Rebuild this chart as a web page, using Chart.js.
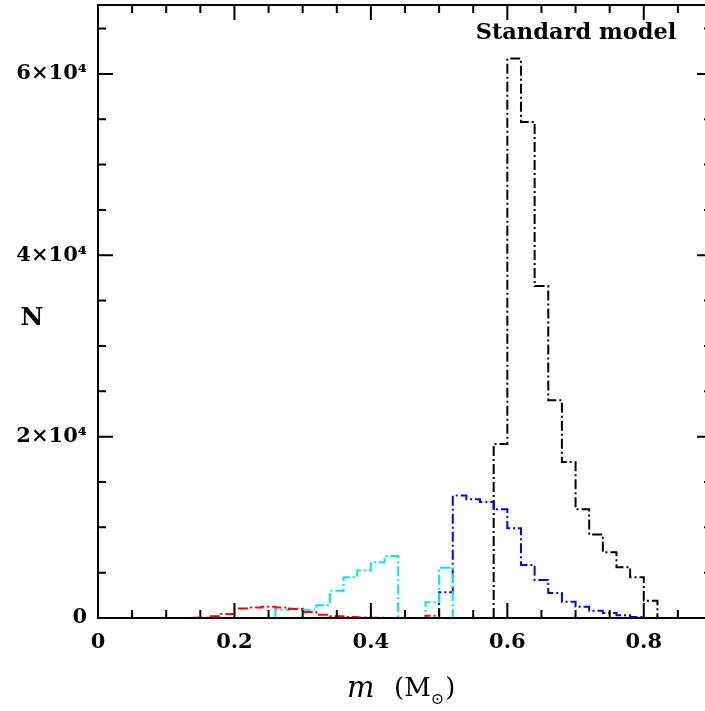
<!DOCTYPE html>
<html>
<head>
<meta charset="utf-8">
<script src="https://cdn.jsdelivr.net/npm/chart.js@4.4.1/dist/chart.umd.min.js"></script>
<style>
  html, body { margin: 0; padding: 0; background: #fff; overflow: hidden; }
  canvas { display: block; }
</style>
</head>
<body>
<canvas id="massChart" width="714" height="711"></canvas>
<script>
// bin edges (M_sun), one more edge than counts, and counts per bin
const redEdges = [0.14, 0.16, 0.18, 0.20, 0.22, 0.24, 0.26, 0.28, 0.30, 0.32, 0.34, 0.36, 0.38, 0.40, 0.42, 0.44, 0.46, 0.48, 0.50];
const redCounts = [40, 200, 450, 1050, 1150, 1250, 1150, 1000, 650, 350, 200, 120, 60, 30, 10, 0, 0, 250];

const cyanEdges = [0.26, 0.28, 0.30, 0.32, 0.34, 0.36, 0.38, 0.40, 0.42, 0.44, 0.46, 0.48, 0.50, 0.52];
const cyanCounts = [900, 1050, 900, 1400, 3000, 4500, 5250, 6150, 6850, 0, 0, 1750, 5550];

const blueEdges = [0.50, 0.52, 0.54, 0.56, 0.58, 0.60, 0.62, 0.64, 0.66, 0.68, 0.70, 0.72, 0.74, 0.76, 0.78, 0.80];
const blueCounts = [2850, 13500, 13100, 12800, 12000, 9900, 5850, 4200, 2750, 1800, 1250, 800, 550, 300, 120];

const blackEdges = [0.58, 0.60, 0.62, 0.64, 0.66, 0.68, 0.70, 0.72, 0.74, 0.76, 0.78, 0.80, 0.82];
const blackCounts = [19200, 61700, 54700, 36600, 24000, 17200, 12000, 9200, 7250, 5600, 4500, 1900];

const xTickValues = [0, 0.2, 0.4, 0.6, 0.8];
const xTickLabels = ["0", "0.2", "0.4", "0.6", "0.8"];
const yTickValues = [0, 20000, 40000, 60000];
const yTickLabels = ["0", "2×10⁴", "4×10⁴", "6×10⁴"];

const serif = "'DejaVu Serif', 'Liberation Serif', serif";

// step outline of a histogram: start and end on the baseline
function histPoints(edges, counts) {
  const pts = [{ x: edges[0], y: 0 }];
  counts.forEach((c, i) => pts.push({ x: edges[i], y: c }));
  pts.push({ x: edges[edges.length - 1], y: 0 });
  return pts;
}

// "before": go along x first, then up/down at the next edge
function histDataset(edges, counts, color) {
  return {
    data: histPoints(edges, counts),
    borderColor: color,
    borderWidth: 2,
    borderDash: [10, 3, 2, 3],
    pointRadius: 0,
    stepped: "before",
    fill: false,
  };
}

// frame with inward ticks on all four sides, plus the text labels
const frame = {
  id: "frame",
  afterDraw(chart) {
    const { ctx, chartArea: a, scales: { x, y } } = chart;
    ctx.save();
    ctx.setLineDash([]);
    ctx.strokeStyle = "#000";
    ctx.lineWidth = 2;
    ctx.strokeRect(a.left, a.top, a.right - a.left, a.bottom - a.top);

    ctx.beginPath();
    for (let i = 0; i * 0.05 <= x.max + 1e-9; i++) {
      const px = x.getPixelForValue(i * 0.05);
      const len = i % 4 === 0 ? 15 : 8;
      ctx.moveTo(px, a.bottom);
      ctx.lineTo(px, a.bottom - len);
      ctx.moveTo(px, a.top);
      ctx.lineTo(px, a.top + len);
    }
    for (let i = 0; i * 5000 <= y.max; i++) {
      const py = y.getPixelForValue(i * 5000);
      const len = i % 4 === 0 ? 15 : 8;
      ctx.moveTo(a.left, py);
      ctx.lineTo(a.left + len, py);
      ctx.moveTo(a.right, py);
      ctx.lineTo(a.right - len, py);
    }
    ctx.stroke();

    ctx.fillStyle = "#000";
    ctx.textBaseline = "middle";
    ctx.textAlign = "center";
    ctx.font = "bold 22.5px " + serif;
    ctx.fillText("Standard model", 576, 33);

    ctx.font = "bold 25px " + serif;
    ctx.fillText("N", 32, 318);

    // x axis title: italic m, then (M⊙) with the sun symbol as subscript
    ctx.textAlign = "left";
    ctx.font = "italic 29px " + serif;
    ctx.fillText("m", 347, 689);
    ctx.font = "26px " + serif;
    ctx.fillText("(M", 394, 689);
    const w = ctx.measureText("(M").width;
    ctx.font = "16px " + serif;
    ctx.fillText("⊙", 394 + w, 700);
    const w2 = ctx.measureText("⊙").width;
    ctx.font = "26px " + serif;
    ctx.fillText(")", 394 + w + w2 + 1, 689);
    ctx.restore();
  },
};

new Chart(document.getElementById("massChart"), {
  type: "line",
  data: {
    datasets: [
      histDataset(redEdges, redCounts, "#ff0000"),
      histDataset(cyanEdges, cyanCounts, "#00e5ff"),
      histDataset(blueEdges, blueCounts, "#0000ff"),
      histDataset(blackEdges, blackCounts, "#000000"),
    ],
  },
  options: {
    responsive: false,
    animation: false,
    layout: { padding: { top: 5, right: 2, left: 0, bottom: 0 } },
    plugins: { legend: { display: false }, tooltip: { enabled: false } },
    scales: {
      x: {
        type: "linear",
        min: 0,
        max: 0.9,
        grid: { display: false },
        border: { display: false },
        afterBuildTicks: (s) => { s.ticks = xTickValues.map((v) => ({ value: v })); },
        afterFit: (s) => { s.height = 93; s.paddingLeft = 0; s.paddingRight = 0; },
        ticks: {
          padding: 4,
          color: "#000",
          font: { family: serif, size: 21, weight: "bold" },
          callback: (v) => xTickLabels[xTickValues.indexOf(v)],
        },
      },
      y: {
        type: "linear",
        min: 0,
        max: 67600,
        grid: { display: false },
        border: { display: false },
        afterBuildTicks: (s) => { s.ticks = yTickValues.map((v) => ({ value: v })); },
        afterFit: (s) => { s.width = 98; s.paddingTop = 0; s.paddingBottom = 0; },
        ticks: {
          padding: 3,
          color: "#000",
          font: { family: serif, size: 21, weight: "bold" },
          callback: (v) => yTickLabels[yTickValues.indexOf(v)],
        },
      },
    },
  },
  plugins: [frame],
});
</script>
</body>
</html>
